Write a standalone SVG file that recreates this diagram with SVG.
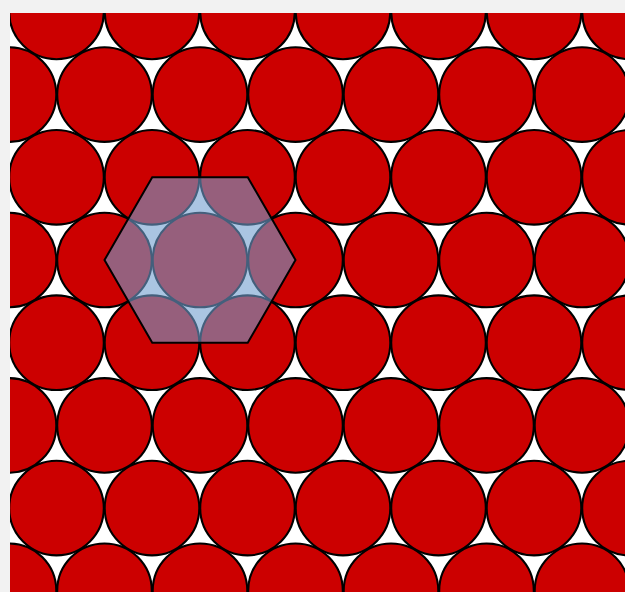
<svg xmlns="http://www.w3.org/2000/svg" xmlns:xlink="http://www.w3.org/1999/xlink" width="625" height="592" viewBox="0 0 625 592">
<style>
.c{fill:#cc0000;stroke:#000;stroke-width:2.1}
.hex{fill:#729fcf;fill-opacity:0.6;stroke:#000;stroke-width:2;stroke-linejoin:miter}
</style>
<defs>
<clipPath id="clip"><rect x="10" y="13" width="615" height="579"/></clipPath>
<circle id="k" class="c" r="47.3"/>
<g id="rowE">
<use xlink:href="#k" x="-39"/><use xlink:href="#k" x="56.5"/><use xlink:href="#k" x="152"/><use xlink:href="#k" x="247.5"/><use xlink:href="#k" x="343"/><use xlink:href="#k" x="438.5"/><use xlink:href="#k" x="534"/><use xlink:href="#k" x="629.5"/>
</g>
<g id="rowO">
<use xlink:href="#k" x="9"/><use xlink:href="#k" x="104.5"/><use xlink:href="#k" x="200"/><use xlink:href="#k" x="295.5"/><use xlink:href="#k" x="391"/><use xlink:href="#k" x="486.5"/><use xlink:href="#k" x="582"/><use xlink:href="#k" x="677.5"/>
</g>
</defs>
<rect width="625" height="592" fill="#f2f2f2"/>
<g id="packing" clip-path="url(#clip)">
<rect x="10" y="13" width="615" height="579" fill="#fff"/>
<use xlink:href="#rowO" y="-70.8"/>
<use xlink:href="#rowE" y="11.9"/>
<use xlink:href="#rowO" y="94.6"/>
<use xlink:href="#rowE" y="177.3"/>
<use xlink:href="#rowO" y="260"/>
<use xlink:href="#rowE" y="342.7"/>
<use xlink:href="#rowO" y="425.4"/>
<use xlink:href="#rowE" y="508.1"/>
<use xlink:href="#rowO" y="590.8"/>
</g>
<g id="hexagon">
<polygon class="hex" points="104.5,260 152.25,177.3 247.75,177.3 295.5,260 247.75,342.7 152.25,342.7"/>
</g>
</svg>
